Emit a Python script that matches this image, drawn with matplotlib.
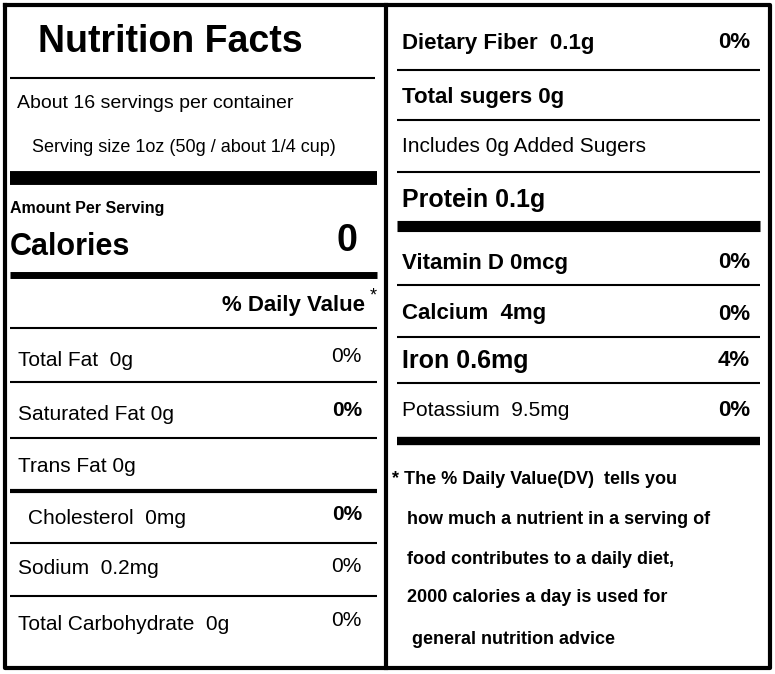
import matplotlib.pyplot as plt

# label content
left_names = ["Total Fat  0g", "Saturated Fat 0g", "Trans Fat 0g", "Cholesterol  0mg",
              "Sodium  0.2mg", "Total Carbohydrate  0g"]
left_pct = ["0%", "0%", "", "0%", "0%", "0%"]
left_bold_pct = [False, True, False, True, False, False]
left_y = [360, 414, 466, 518, 569, 624]
left_x = [18, 18, 18, 28, 18, 18]

right_names = ["Dietary Fiber  0.1g", "Total sugers 0g", "Includes 0g Added Sugers", "Protein 0.1g",
               "Vitamin D 0mcg", "Calcium  4mg", "Iron 0.6mg", "Potassium  9.5mg"]
right_pct = ["0%", "", "", "", "0%", "0%", "4%", "0%"]
right_y = [43, 97, 147, 200, 263, 314, 361, 411]

footnote = ["* The % Daily Value(DV)  tells you",
            "   how much a nutrient in a serving of",
            "   food contributes to a daily diet,",
            "   2000 calories a day is used for",
            "    general nutrition advice"]
foot_y = [480, 520, 560, 598, 640]

FAM = "Liberation Sans"

fig = plt.figure(figsize=(7.75, 6.74), dpi=100)
ax = fig.add_axes([0, 0, 1, 1])
ax.set_xlim(0, 775)
ax.set_ylim(674, 0)
ax.axis("off")

# frame
ax.plot([5, 770, 770, 5, 5], [5, 5, 668, 668, 5], color="black", lw=3)
ax.plot([386, 386], [5, 668], color="black", lw=3)

def hline(y, x0, x1, lw=1.5):
    ax.plot([x0, x1], [y, y], color="black", lw=lw, solid_capstyle="butt")

# left panel
ax.text(38, 42, "Nutrition Facts", fontsize=27, weight="bold", va="center", family=FAM)
hline(78, 10, 375)
ax.text(17, 104, "About 16 servings per container", fontsize=14, va="center", family=FAM)
ax.text(32, 147, "Serving size 1oz (50g / about 1/4 cup)", fontsize=13, va="center", family=FAM)
hline(178, 10, 377, lw=10)
ax.text(10, 208, "Amount Per Serving", fontsize=11.5, weight="bold", va="center", family=FAM)
ax.text(10, 247, "Calories", fontsize=22, weight="bold", va="center", family=FAM)
ax.text(357, 241, "0", fontsize=27, weight="bold", va="center", ha="right", family=FAM)
hline(275, 10, 377, lw=5)
ax.text(365, 306, "% Daily Value", fontsize=16, weight="bold", va="center", ha="right", family=FAM)
ax.text(370, 296, "*", fontsize=13, va="center", family=FAM)
hline(328, 10, 377)
for n, p, b, y, x in zip(left_names, left_pct, left_bold_pct, left_y, left_x):
    ax.text(x, y, n, fontsize=15, va="center", family=FAM)
    ax.text(362, y - 3, p, fontsize=15, va="center", ha="right",
            weight="bold" if b else "normal", family=FAM)
for y, lw in zip([382, 438, 491, 543, 596], [1.5, 1.5, 3, 1.5, 1.5]):
    hline(y, 10, 377, lw=lw)

# right panel
for i, (n, p, y) in enumerate(zip(right_names, right_pct, right_y)):
    bold = i in (0, 1, 3, 4, 5, 6)
    fs = 18 if i in (3, 6) else 16
    if i in (2, 7):
        fs = 15
    ax.text(402, y, n, fontsize=fs, va="center", weight="bold" if bold else "normal", family=FAM)
    ax.text(750, y, p, fontsize=16, va="center", ha="right", weight="bold", family=FAM)
for y in [70, 120, 172, 285, 337, 383]:
    hline(y, 397, 760)
hline(226, 397, 760, lw=8)
hline(441, 397, 760, lw=6)
for t, y in zip(footnote, foot_y):
    ax.text(392, y, t, fontsize=13, va="center", weight="bold", family=FAM)

fig.savefig("out.png", dpi=100)
